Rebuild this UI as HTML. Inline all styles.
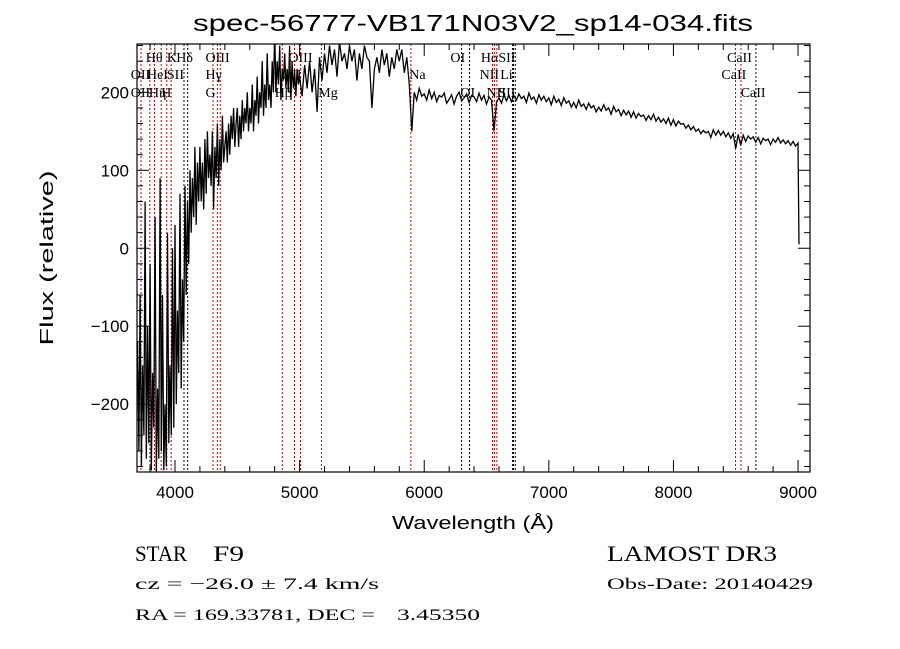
<!DOCTYPE html>
<html><head><meta charset="utf-8"><style>
html,body{margin:0;padding:0;background:#fff;width:900px;height:649px;overflow:hidden}
svg text{font-family:"Liberation Serif",serif;fill:#000}
.s{font-family:"Liberation Sans",sans-serif}
</style></head><body>
<svg id="chart" width="900" height="649" viewBox="0 0 900 649" xmlns="http://www.w3.org/2000/svg">
<rect width="900" height="649" fill="#fff"/>
<text x="473" y="31" text-anchor="middle" class="s" font-size="23" textLength="560" lengthAdjust="spacingAndGlyphs">spec-56777-VB171N03V2_sp14-034.fits</text>
<g id="grid"></g><g id="series"></g><g id="axes"></g><g id="labels"></g>
<text x="473" y="529" text-anchor="middle" class="s" font-size="18" textLength="162" lengthAdjust="spacingAndGlyphs">Wavelength (Å)</text>
<text transform="translate(53,258) rotate(-90)" text-anchor="middle" class="s" font-size="18" textLength="175" lengthAdjust="spacingAndGlyphs">Flux (relative)</text>
<text x="135" y="561" font-size="22" textLength="52" lengthAdjust="spacingAndGlyphs">STAR</text>
<text x="213" y="561" font-size="22" textLength="31" lengthAdjust="spacingAndGlyphs">F9</text>
<text x="607" y="561" font-size="22" textLength="170" lengthAdjust="spacingAndGlyphs">LAMOST DR3</text>
<text x="135" y="589" font-size="16" textLength="244" lengthAdjust="spacingAndGlyphs">cz = −26.0 ± 7.4 km/s</text>
<text x="607" y="589" font-size="16" textLength="206" lengthAdjust="spacingAndGlyphs">Obs-Date: 20140429</text>
<text x="135" y="620" font-size="16" textLength="240" lengthAdjust="spacingAndGlyphs">RA = 169.33781, DEC =</text>
<text x="397" y="620" font-size="16" textLength="83" lengthAdjust="spacingAndGlyphs">3.45350</text>
</svg>
<script>
const seg1Start=3700, seg1Step=10;
const seg1Flux=[-120,-260,-60,-280,-150,-240,60,-270,-100,-250,
-20,-285,-160,-230,40,-290,-180,-270,90,-260,
-60,-285,-200,-280,20,-250,-150,-240,0,-230,
30,-200,-80,-160,70,-180,-40,-120,80,-60,
60,-20,100,20,90,40,130,30,110,60,
130,60,110,50,140,70,150,90,120,80,
150,50,130,90,160,80,140,100,170,110,
130,150,110,160,120,170,140,180,130,160,
180,130,170,140,190,150,180,160,200,150,
180,160,210,150,190,170,220,160,200,180,
240,170,210,180,250,190,210,180,240,200,
280,200,240,210,260,190,230,215,250,205,
230,200,260,190,240,205,225,195,230,210,220];
const seg2Start=5000, seg2Step=20;
const seg2Flux=[220,195,235,205,240,200,230,175,245,215,
250,225,260,235,255,220,265,240,250,230,
260,240,255,215,250,230,260,245,240,180,
230,245,225,255,235,250,220,245,230,255,
240,255,225,245,210,150,200,190,205,195,200];
const seg3Start=6000, seg3Step=20;
const seg3Flux=[198,190,203,192,200,188,196,194,199,186,
191,197,185,195,200,189,193,198,187,196,
194,188,199,190,196,185,194,190,150,187,
193,186,197,189,196,188,196,190,198,192,
195,187,199,191,194,186,197,190,195,188,
193,184,195,187,191,183,193,186,189,181,
187,180,190,182,185,178,186,180,183,175,
181,176,184,177,180,172,182,175,178,170,
177,171,176,168,175,167,173,169,171,164,
170,165,172,163,168,162,166,160,167,158,
165,157,163,159,160,154,158,152,156,150,
153,147,151,148,150,142,152,145,151,145,
150,143,148,141,147,128,146,132,145,137,
144,140,143,136,142,134,141,138,140,133,
140,136,142,135,139,134,138,132,137,131,
135];
const tailWl=[9008], tailFlux=[5];
const xTicks=[4000,5000,6000,7000,8000,9000];
const yTicks=[-200,-100,0,100,200];
const lineWl=[3727,3798,3835,3889,3934,3969,4072,4102,4305,4340,4363,4861,4959,5007,5175,5893,6300,6364,6548,6563,6583,6708,6717,6731,8498,8542,8662];
const lineColor=["r","r","r","r","r","r","k","k","r","r","r","r","r","r","r","r","k","k","r","r","r","k","k","k","r","r","k"];
const labelText=["Hθ","K","Hδ","OIII","OII","HeI","SII","Hγ","OII","Hη","H","G","OIII","OII","Hβ","Mg","Na","OI","Hα","SII","NII","Li","OI","NII","SII","CaII","CaII","CaII"];
const labelWl=[3765,3935,4010,4245,3645,3775,3935,4245,3645,3790,3890,4245,4910,4860,4800,5150,5880,6210,6455,6595,6445,6610,6290,6500,6595,8430,8385,8540];
const labelRow=[0,0,0,0,1,1,1,1,2,2,2,2,0,1,2,2,1,0,0,0,1,1,2,2,2,0,1,2];

const L=137,R=810,T=44,B=472, W0=3695, W1=9096, F0=-287, F1=262;
const xs=w=>L+(w-W0)/(W1-W0)*(R-L);
const ys=f=>B-(f-F0)/(F1-F0)*(B-T);
const NS="http://www.w3.org/2000/svg";
function mk(tag,attrs,parent){const e=document.createElementNS(NS,tag);for(const k in attrs)e.setAttribute(k,attrs[k]);parent.appendChild(e);return e;}
const svg=document.getElementById('chart');
const defs=mk('defs',{},svg);
const cp=mk('clipPath',{id:'plotclip'},defs);
mk('rect',{x:L,y:T,width:R-L,height:B-T},cp);

const grid=document.getElementById('grid');
lineWl.forEach((w,i)=>{
 const l=mk('line',{x1:xs(w),x2:xs(w),y1:T,y2:B,stroke:lineColor[i]=="r"?"#c00000":"#000","stroke-width":1,"stroke-dasharray":"2,2"},grid);
 
 
});

const pts=[];
seg1Flux.forEach((f,i)=>{if(i<seg1Flux.length-1)pts.push([seg1Start+i*seg1Step,f]);});
seg2Flux.forEach((f,i)=>{if(i<seg2Flux.length-1)pts.push([seg2Start+i*seg2Step,f]);});
seg3Flux.forEach((f,i)=>pts.push([seg3Start+i*seg3Step,f]));
tailWl.forEach((w,i)=>pts.push([w,tailFlux[i]]));
const poly=mk('polyline',{points:pts.map(p=>xs(p[0]).toFixed(1)+','+ys(p[1]).toFixed(1)).join(' '),fill:'none',stroke:'#000','stroke-width':1.3,'clip-path':'url(#plotclip)'},document.getElementById('series'));



const ax=document.getElementById('axes');
const frame=mk('rect',{x:L,y:T,width:R-L,height:B-T,fill:'none',stroke:'#000','stroke-width':1.2},ax);


for(let w=3800;w<=9000;w+=200){
 const x=xs(w),len=(w%1000==0)?12:6;
 mk('line',{x1:x,x2:x,y1:B,y2:B-len,stroke:'#000'},ax);
 mk('line',{x1:x,x2:x,y1:T,y2:T+len,stroke:'#000'},ax);
}
for(let f=-280;f<=260;f+=20){
 const y=ys(f),len=(f%100==0)?12:6;
 mk('line',{x1:L,x2:L+len,y1:y,y2:y,stroke:'#000'},ax);
 mk('line',{x1:R,x2:R-len,y1:y,y2:y,stroke:'#000'},ax);
}
xTicks.forEach(t=>{
 const e=mk('text',{x:xs(t),y:B+26,'text-anchor':'middle','font-size':17,'class':'s'},ax);
 e.textContent=t;
 
 
});
yTicks.forEach(t=>{
 const e=mk('text',{x:L-8,y:ys(t)+6,'text-anchor':'end','font-size':17,'class':'s'},ax);
 e.textContent=t==0?"0":(t<0?"−"+(-t):t);
 
 
});

const lab=document.getElementById('labels');
const rowY=[62,79,97];
labelText.forEach((s,i)=>{
 const e=mk('text',{x:xs(labelWl[i]),y:rowY[labelRow[i]],'font-size':14},lab);
 e.textContent=s;
 
 
});
</script>
</body></html>
